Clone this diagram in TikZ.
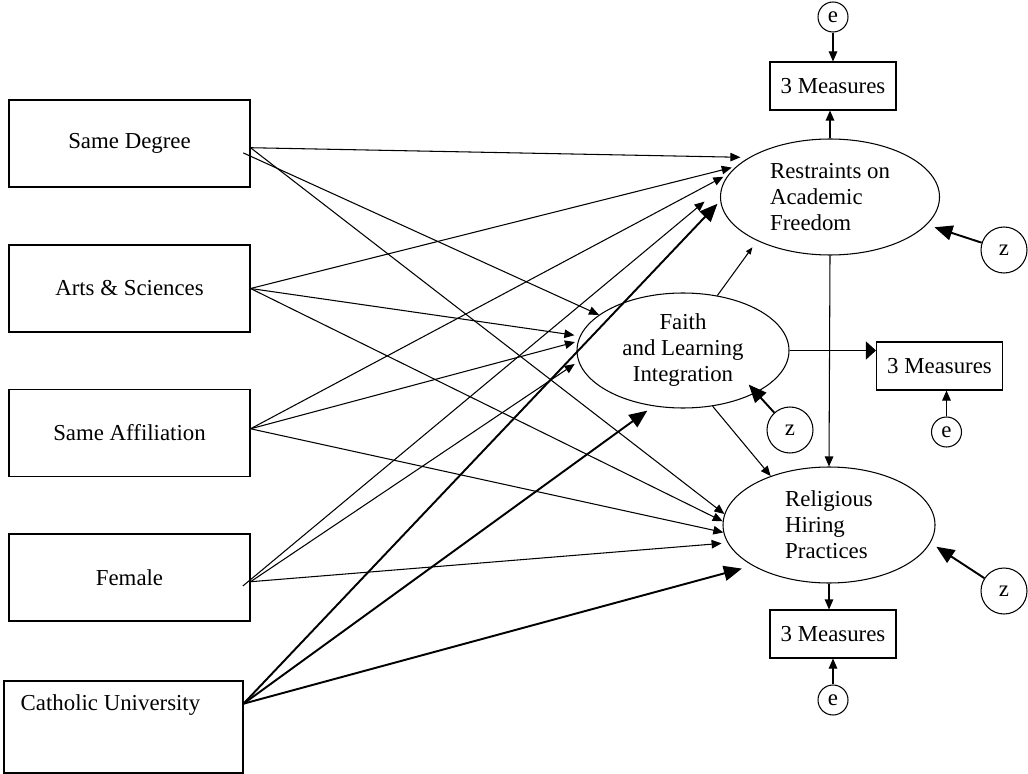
\documentclass[tikz,border=0pt]{standalone}
\usepackage{fontspec}
\setmainfont{Liberation Serif}
\usetikzlibrary{shapes.geometric,arrows.meta}

\begin{document}
\begin{tikzpicture}[
    every node/.style={font=\fontsize{13}{14.8}\selectfont},
    box/.style={draw, line width=0.6pt, minimum width=4.82cm, minimum height=1.74cm},
    lat/.style={draw, ellipse, line width=0.6pt, inner sep=0pt},
    meas/.style={draw, line width=0.6pt, minimum width=2.52cm, minimum height=0.96cm},
    err/.style={draw, circle, line width=0.6pt, minimum size=0.6cm, inner sep=0pt},
    dist/.style={draw, circle, line width=0.6pt, minimum size=0.92cm, inner sep=0pt},
    arr/.style={line width=0.6pt, -{Triangle[length=0.2cm,width=0.17cm]}},
    smallarr/.style={line width=0.6pt, -{Triangle[length=0.14cm,width=0.11cm]}},
    widearr/.style={line width=0.6pt, -{Triangle[length=0.2cm,width=0.36cm]}},
    bigarr/.style={line width=1.1pt, -{Triangle[length=0.36cm,width=0.3cm]}}]
    \useasboundingbox (0,0) rectangle (20.56,-15.48);

    % predictors
    \node[box] (sd) at (2.59,-2.87) {Same Degree};
    \node[box] (as) at (2.59,-5.77) {Arts \& Sciences};
    \node[box] (sa) at (2.59,-8.66) {Same Affiliation};
    \node[box] (fe) at (2.59,-11.55) {Female};
    \node[box, minimum width=4.78cm, minimum height=1.84cm,
          label={[anchor=north west, xshift=0.22cm, yshift=-0.15cm]north west:Catholic University}]
          (cu) at (2.47,-14.54) {};

    % latent variables
    \node[lat, minimum width=4.38cm, minimum height=2.32cm, align=left] (rest) at (16.6,-3.94) {Restraints on\\Academic\\Freedom};
    \node[lat, minimum width=4.24cm, minimum height=2.3cm, align=center] (fli) at (13.66,-7.01) {Faith\\and Learning\\Integration};
    \node[lat, minimum width=4.24cm, minimum height=2.32cm, align=left] (rhp) at (16.58,-10.5) {Religious\\Hiring\\Practices};

    % measures, errors, disturbances
    \node[meas] (mrest) at (16.66,-1.72) {3 Measures};
    \node[meas] (mfli) at (18.79,-7.32) {3 Measures};
    \node[meas] (mrhp) at (16.66,-12.68) {3 Measures};
    \node[err] (erest) at (16.66,-0.34) {e};
    \node[err] (efli) at (18.93,-8.64) {e};
    \node[err] (erhp) at (16.66,-14.0) {e};
    \node[dist] (zrest) at (20.08,-5.0) {z};
    \node[dist] (zfli) at (15.8,-8.6) {z};
    \node[dist] (zrhp) at (20.08,-11.82) {z};

    % Same Degree
    \draw[arr, shorten >=0.17cm] (sd.-2) -- (rest.154.5);
    \draw[arr, shorten <=-0.16cm] (sd.-6.9) -- (fli.157);
    \draw[arr] (sd.-2) -- (rhp.174.5);
    % Arts & Sciences
    \draw[arr, shorten >=0.09cm] (as.east) -- (rest.162);
    \draw[arr, shorten >=0.11cm] (as.east) -- (fli.172);
    \draw[arr] (as.east) -- (rhp.178.6);
    % Same Affiliation
    \draw[arr, shorten >=0.13cm] (sa.2) -- (rest.167.7);
    \draw[arr, shorten >=0.06cm] (sa.2) -- (fli.175.5);
    \draw[arr] (sa.2) -- (rhp.-176);
    % Female
    \draw[arr, shorten <=-0.2cm, shorten >=0.44cm] (fe.-1) -- (rest.175.2);
    \draw[arr, shorten >=0.09cm] (fe.-2) -- (fli.-174.5);
    \draw[arr, shorten >=0.12cm] (fe.-2) -- (rhp.-170.2);
    % Catholic University
    \draw[bigarr, shorten >=0.08cm] (cu.11) -- (rest.-178.3);
    \draw[bigarr, shorten >=0.15cm] (cu.11) -- (fli.-118.5);
    \draw[bigarr, shorten >=0.22cm] (cu.11) -- (rhp.-152.3);

    % between latents
    \draw[smallarr, shorten >=0.16cm] (fli.58) -- (rest.211);
    \draw[arr] (fli.-62) -- (rhp.140);
    \draw[arr] (rest.south) -- (rhp.north);

    % measurement part
    \draw[arr] (rest.north) -- (rest.north |- mrest.south);
    \draw[arr] (erest) -- (mrest);
    \draw[widearr] (fli.east) -- (fli.east -| mfli.west);
    \draw[arr] (efli) -- (efli |- mfli.south);
    \draw[arr] (rhp.south) -- (rhp.south |- mrhp.north);
    \draw[arr] (erhp) -- (mrhp);

    % disturbances
    \draw[bigarr, shorten >=0.16cm] (zrest) -- (rest.-16);
    \draw[bigarr, shorten >=-0.22cm] (zfli) -- (fli.-30);
    \draw[bigarr, shorten >=0.14cm] (zrhp) -- (rhp.-10);
\end{tikzpicture}
\end{document}
